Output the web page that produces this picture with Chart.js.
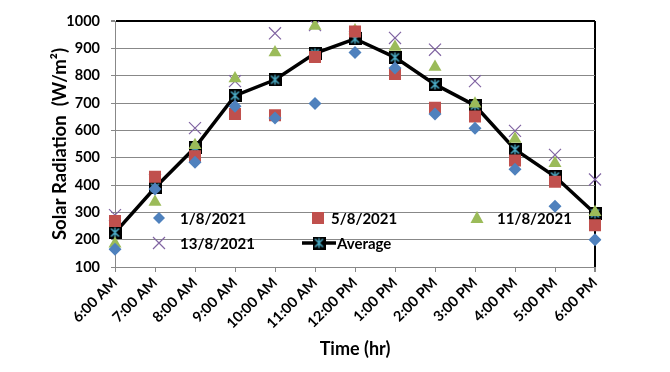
<!DOCTYPE html>
<html>
<head>
<meta charset="utf-8">
<script src="https://cdn.jsdelivr.net/npm/chart.js"></script>
<style>
  html, body { margin: 0; padding: 0; background: #fff; }
  #wrap { width: 670px; height: 372px; }
</style>
</head>
<body>
<div id="wrap"><canvas id="c" width="670" height="372"></canvas></div>
<script>
// ---- data ----
const categories = ["6:00 AM","7:00 AM","8:00 AM","9:00 AM","10:00 AM","11:00 AM","12:00 PM","1:00 PM","2:00 PM","3:00 PM","4:00 PM","5:00 PM","6:00 PM"];
const seriesNames = ["1/8/2021","5/8/2021","11/8/2021","13/8/2021","Average"];
const day1  = [165, 385, 483, 688, 645, 698, 885, 828, 660, 608, 458, 322, 200];
const day5  = [268, 430, 505, 660, 655, 868, 962, 806, 683, 651, 490, 412, 253];
const day11 = [185, 338, 545, 790, 885, 982, 965, 905, 832, 697, 568, 480, 300];
const day13 = [290, 418, 608, 780, 955, 985, 940, 938, 895, 780, 598, 510, 420];
const average = [226, 390, 537, 727, 785, 882, 935, 867, 768, 691, 530, 431, 296];
const yTicks = [100, 200, 300, 400, 500, 600, 700, 800, 900, 1000];

const C_BLUE = '#4F81BD', C_RED = '#C0504D', C_GREEN = '#9BBB59', C_PURPLE = '#8064A2', C_CYAN = '#4BACC6';
const GRID = '#888888';
const FONT = 'Lato, "Open Sans", sans-serif';

// average marker image: black square with cyan asterisk
function makeAvgMarker() {
  const s = 13;
  const cv = document.createElement('canvas');
  cv.width = s; cv.height = s;
  const g = cv.getContext('2d');
  g.fillStyle = '#000';
  g.fillRect(0, 0, s, s);
  g.strokeStyle = C_CYAN;
  g.lineWidth = 1.5;
  g.beginPath();
  g.moveTo(2.5, 2.5); g.lineTo(s - 2.5, s - 2.5);
  g.moveTo(s - 2.5, 2.5); g.lineTo(2.5, s - 2.5);
  g.moveTo(s / 2, 1.5); g.lineTo(s / 2, s - 1.5);
  g.stroke();
  return cv;
}
const avgMarker = makeAvgMarker();

// legend drawn inside the plot area
const innerLegend = {
  id: 'innerLegend',
  afterDraw(chart) {
    const ctx = chart.ctx;
    ctx.save();
    ctx.font = 'bold 15px ' + FONT;
    ctx.fillStyle = '#000';
    ctx.textBaseline = 'middle';
    ctx.textAlign = 'left';
    const r1 = 218, r2 = 243;
    // diamond
    ctx.fillStyle = C_BLUE;
    ctx.beginPath();
    ctx.moveTo(159, r1 - 6); ctx.lineTo(165, r1); ctx.lineTo(159, r1 + 6); ctx.lineTo(153, r1); ctx.closePath();
    ctx.fill();
    // square
    ctx.fillStyle = C_RED;
    ctx.fillRect(318 - 6, r1 - 6, 12, 12);
    // triangle
    ctx.fillStyle = C_GREEN;
    ctx.beginPath();
    ctx.moveTo(477, r1 - 7); ctx.lineTo(483.5, r1 + 5); ctx.lineTo(470.5, r1 + 5); ctx.closePath();
    ctx.fill();
    // cross
    ctx.strokeStyle = C_PURPLE;
    ctx.lineWidth = 1.2;
    ctx.beginPath();
    ctx.moveTo(153, r2 - 6); ctx.lineTo(165, r2 + 6);
    ctx.moveTo(165, r2 - 6); ctx.lineTo(153, r2 + 6);
    ctx.stroke();
    // average line + marker
    ctx.strokeStyle = '#000';
    ctx.lineWidth = 3.5;
    ctx.beginPath();
    ctx.moveTo(302, r2); ctx.lineTo(336, r2);
    ctx.stroke();
    ctx.drawImage(avgMarker, 319 - 6.5, r2 - 6.5);
    // texts
    ctx.fillStyle = '#000';
    ctx.fillText(seriesNames[0], 180, r1 + 1);
    ctx.fillText(seriesNames[1], 331, r1 + 1);
    ctx.fillText(seriesNames[2], 497, r1 + 1);
    ctx.fillText(seriesNames[3], 180, r2 + 1);
    ctx.fillText(seriesNames[4], 337, r2 + 1);
    ctx.restore();
  }
};

const scatterBase = { showLine: false, borderWidth: 0, pointHoverRadius: 0 };

new Chart(document.getElementById('c'), {
  type: 'line',
  data: {
    labels: categories,
    datasets: [
      Object.assign({}, scatterBase, { label: seriesNames[0], data: day1, pointStyle: 'rectRot', pointRadius: 6.5, backgroundColor: C_BLUE, borderColor: C_BLUE }),
      Object.assign({}, scatterBase, { label: seriesNames[1], data: day5, pointStyle: 'rect', pointRadius: 8.5, backgroundColor: C_RED, borderColor: C_RED }),
      Object.assign({}, scatterBase, { label: seriesNames[2], data: day11, pointStyle: 'triangle', pointRadius: 7.5, backgroundColor: C_GREEN, borderColor: C_GREEN }),
      { label: seriesNames[4], data: average, showLine: true, borderColor: '#000', borderWidth: 3.5, pointStyle: avgMarker, pointRadius: 6.5, tension: 0 },
      Object.assign({}, scatterBase, { label: seriesNames[3], data: day13, pointStyle: 'crossRot', pointRadius: 8.5, borderWidth: 1.2, backgroundColor: C_PURPLE, borderColor: C_PURPLE })
    ]
  },
  options: {
    responsive: false,
    animation: false,
    devicePixelRatio: 1,
    layout: { padding: { top: 21, right: 75, left: 0, bottom: 0 } },
    plugins: { legend: { display: false }, tooltip: { enabled: false } },
    scales: {
      x: {
        type: 'category',
        offset: false,
        afterFit(s) { s.height = 105; },
        grid: {
          drawOnChartArea: true,
          color: (c) => c.index === categories.length - 1 ? '#000' : 'rgba(0,0,0,0)',
          lineWidth: (c) => c.index === categories.length - 1 ? 2 : 1,
          tickColor: GRID,
          tickLength: 5
        },
        border: { color: GRID, width: 1 },
        ticks: {
          autoSkip: false,
          minRotation: 45, maxRotation: 45,
          color: '#000',
          padding: 2,
          font: { family: FONT, size: 14.5, weight: 'bold' }
        },
        title: {
          display: true, text: 'Time (hr)', color: '#000',
          font: { family: FONT, size: 18, weight: 'bold' },
          padding: { top: 0, bottom: 12 }
        }
      },
      y: {
        min: 100, max: 1000,
        afterFit(s) { s.width = 115; },
        afterBuildTicks(s) { s.ticks = yTicks.map(v => ({ value: v })); },
        grid: {
          color: (c) => c.tick && c.tick.value === 1000 ? '#000' : GRID,
          lineWidth: (c) => c.tick && c.tick.value === 1000 ? 2 : 1,
          tickColor: GRID,
          tickLength: 4
        },
        border: { color: GRID, width: 1 },
        ticks: {
          color: '#000',
          padding: 11,
          callback: (v) => String(v),
          font: { family: FONT, size: 14.5, weight: 'bold' }
        },
        title: {
          display: true, text: 'Solar Radiation  (W/m²)', color: '#000',
          font: { family: FONT, size: 18.5, weight: 'bold' },
          padding: { top: 49, bottom: 0 }
        }
      }
    }
  },
  plugins: [innerLegend]
});
</script>
</body>
</html>
